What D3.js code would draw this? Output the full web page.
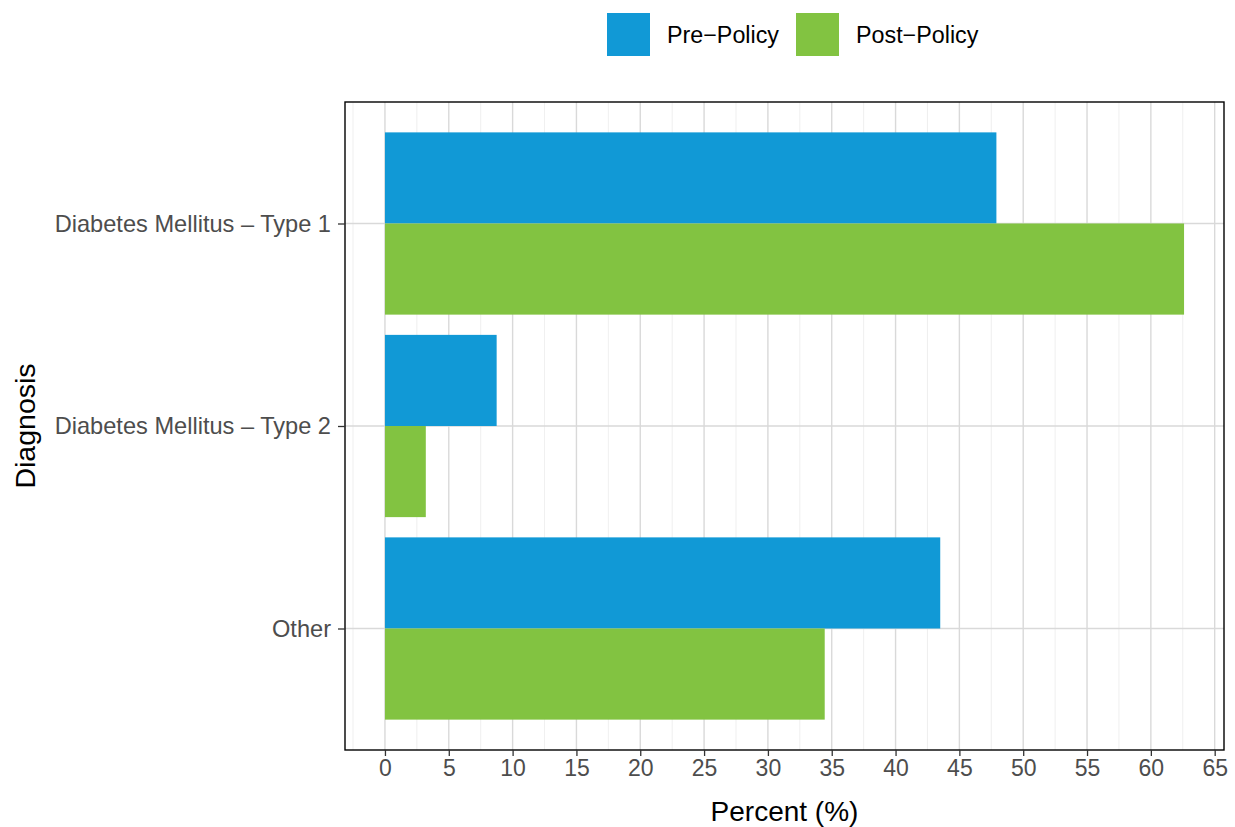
<!DOCTYPE html>
<html><head><meta charset="utf-8">
<script src="https://cdn.jsdelivr.net/npm/d3@7"></script>
<style>body{margin:0;background:#fff;}svg{display:block;font-family:"Liberation Sans",Arial,sans-serif;}</style>
</head><body>
<svg id="c" width="1235" height="827"></svg>
<script>
const categories = ["Diabetes Mellitus \u2013 Type 1", "Diabetes Mellitus \u2013 Type 2", "Other"];
const seriesNames = ["Pre\u2212Policy", "Post\u2212Policy"];
const preValues = [47.9, 8.75, 43.5];
const postValues = [62.6, 3.2, 34.45];
const xTicks = [0,5,10,15,20,25,30,35,40,45,50,55,60,65];
const colors = ["#1199D6", "#82C341"];

const svg = d3.select("#c");
const L = 345, R = 1224, T = 102, B = 750;
const x = d3.scaleLinear().domain([-3.13, 65.73]).range([L, R]);
const yi = d3.scaleLinear().domain([-0.6, 2.6]).range([T, B]);
const step = yi(1) - yi(0);
const yc = c => yi(categories.indexOf(c));
const sub = d3.scaleBand().domain(seriesNames).range([-step*0.45, step*0.45]);

// minor grid
const minor = d3.range(-2.5, 66, 5);
svg.append("g").selectAll("line").data(minor).join("line")
  .attr("x1", d=>x(d)).attr("x2", d=>x(d)).attr("y1", T).attr("y2", B)
  .attr("stroke", "#ebebeb").attr("stroke-width", 0.8);
// major grid
svg.append("g").selectAll("line").data(xTicks).join("line")
  .attr("x1", d=>x(d)).attr("x2", d=>x(d)).attr("y1", T).attr("y2", B)
  .attr("stroke", "#d9d9d9").attr("stroke-width", 1.4);
svg.append("g").selectAll("line").data(categories).join("line")
  .attr("x1", L).attr("x2", R).attr("y1", d=>yc(d)).attr("y2", d=>yc(d))
  .attr("stroke", "#d9d9d9").attr("stroke-width", 1.4);

// bars
const data = [];
categories.forEach((c,i)=>{
  data.push({c, s: seriesNames[0], v: preValues[i], col: colors[0]});
  data.push({c, s: seriesNames[1], v: postValues[i], col: colors[1]});
});
svg.append("g").selectAll("rect").data(data).join("rect")
  .attr("x", x(0)).attr("width", d=>x(d.v)-x(0))
  .attr("y", d=>yc(d.c)+sub(d.s)).attr("height", sub.bandwidth())
  .attr("fill", d=>d.col);

// panel border
svg.append("rect").attr("x", L).attr("y", T).attr("width", R-L).attr("height", B-T)
  .attr("fill","none").attr("stroke","#000").attr("stroke-width",1.4);

// x axis
const xa = svg.append("g").attr("transform", `translate(0,${B})`)
  .call(d3.axisBottom(x).tickValues(xTicks).tickSize(6).tickPadding(4).tickFormat(d3.format("d")));
xa.select(".domain").remove();
xa.selectAll("line").attr("stroke","#333").attr("stroke-width",1.3);
xa.selectAll("text").attr("fill","#4d4d4d").style("font-size","23px").style("font-family","Liberation Sans, Arial, sans-serif");

// y axis
const ya = svg.append("g").attr("transform", `translate(${L},0)`)
  .call(d3.axisLeft(d3.scaleOrdinal().domain(categories).range(categories.map(yc))).tickSize(7).tickPadding(7));
ya.select(".domain").remove();
ya.selectAll("line").attr("stroke","#333").attr("stroke-width",1.3);
ya.selectAll("text").attr("fill","#4d4d4d").style("font-size","23.6px").style("font-family","Liberation Sans, Arial, sans-serif");

// titles
svg.append("text").attr("x", (L+R)/2).attr("y", 821).attr("text-anchor","middle")
  .style("font-size","28px").attr("fill","#000").text("Percent (%)");
svg.append("text").attr("transform", `translate(35,${(T+B)/2}) rotate(-90)`).attr("text-anchor","middle")
  .style("font-size","28.5px").attr("fill","#000").text("Diagnosis");

// legend
const leg = [{x:607, tx:667}, {x:796, tx:856}];
seriesNames.forEach((s,i)=>{
  svg.append("rect").attr("x", leg[i].x).attr("y", 13).attr("width", 43).attr("height", 43).attr("fill", colors[i]);
  svg.append("text").attr("x", leg[i].tx).attr("y", 43).style("font-size","23.3px").attr("fill","#000").text(s);
});
</script>
</body></html>
